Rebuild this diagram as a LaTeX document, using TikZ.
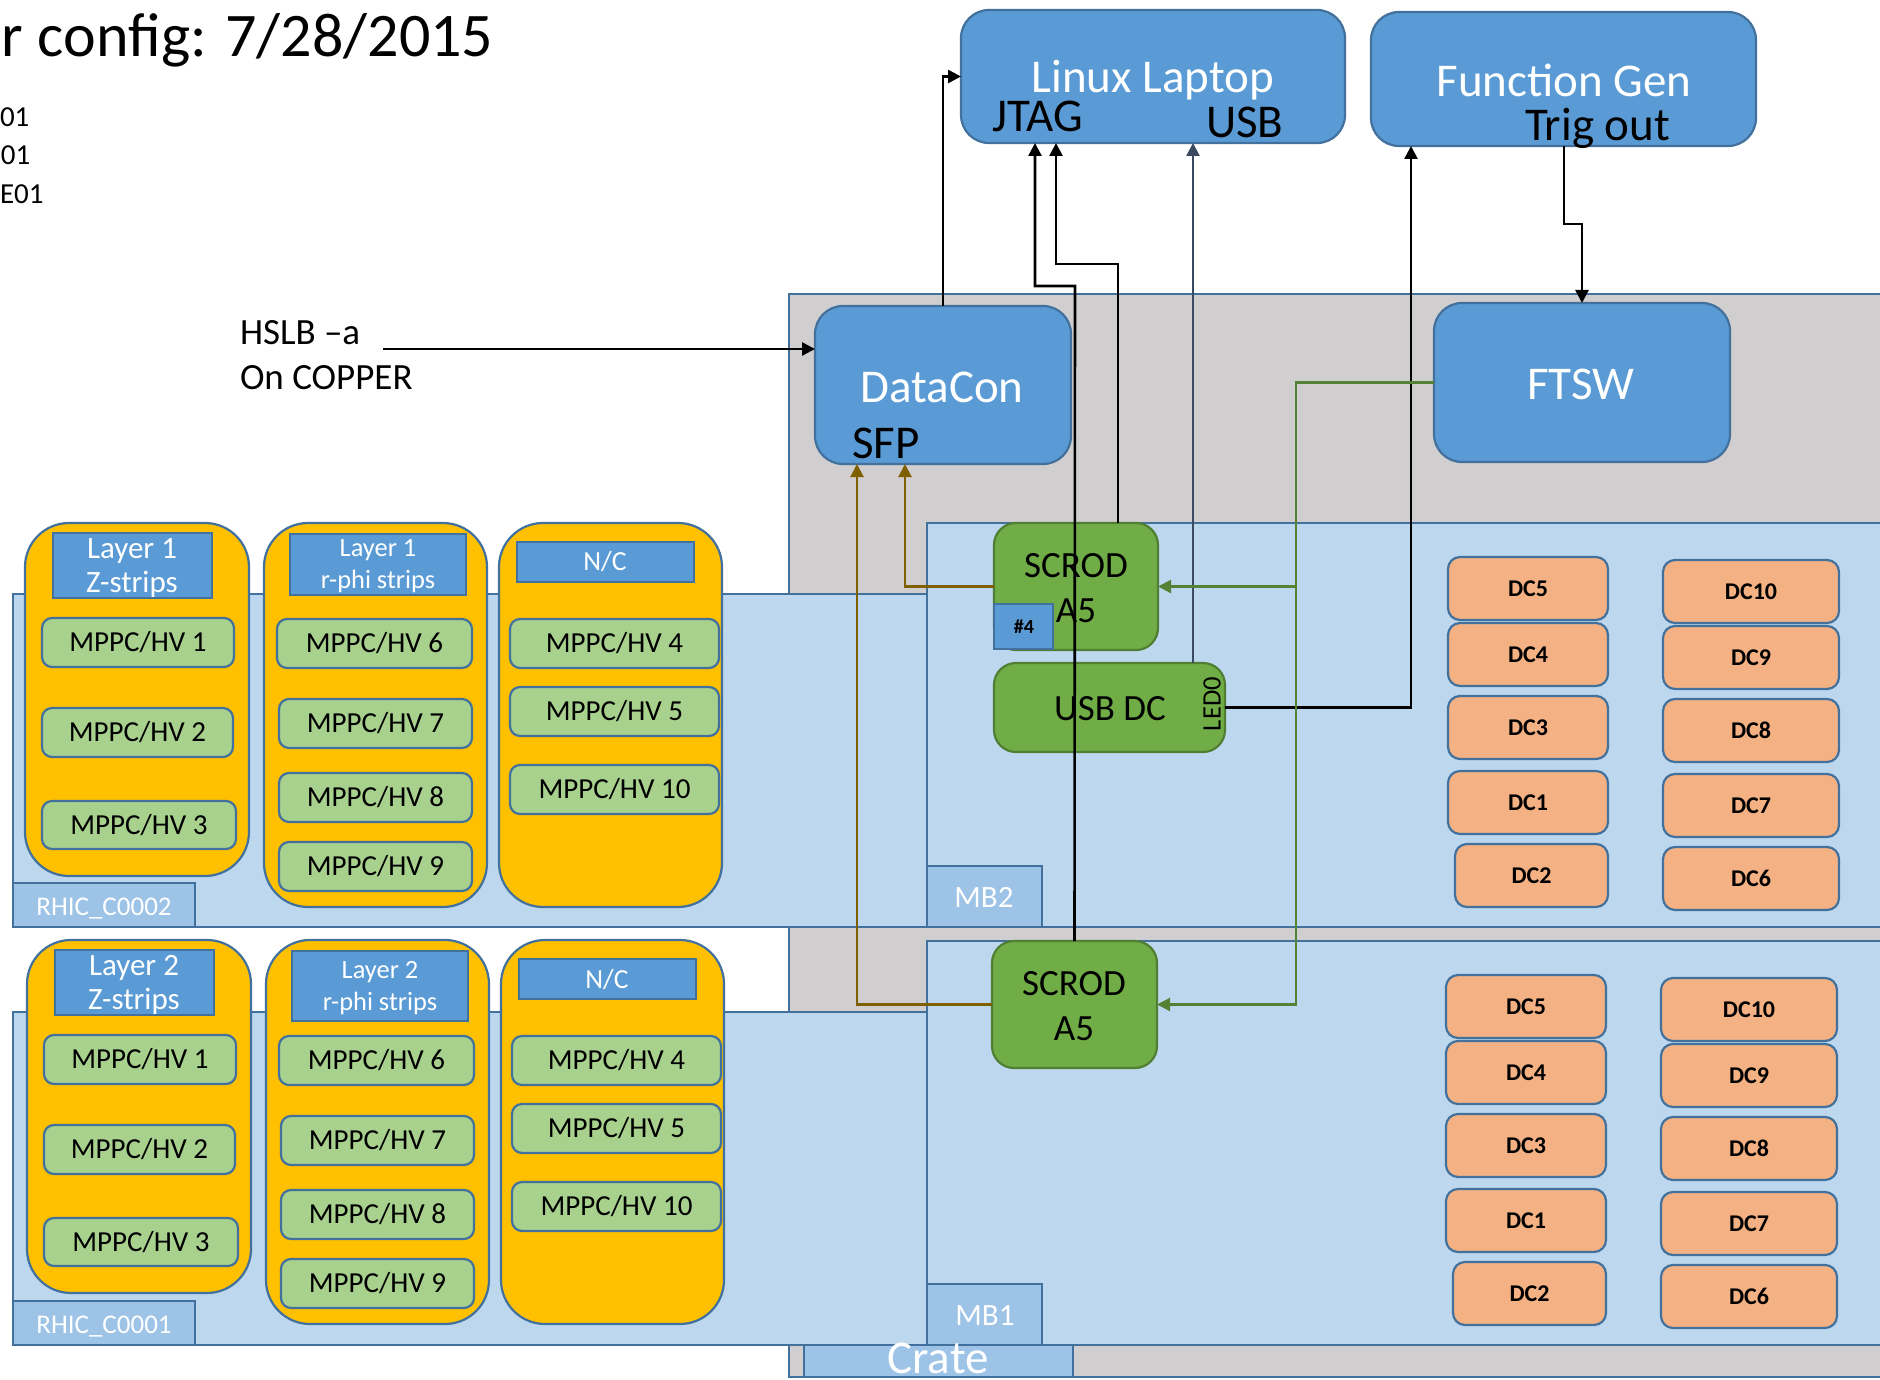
\documentclass[tikz,border=0pt]{standalone}
\usepackage{fontspec}
\setmainfont{Carlito}
\usetikzlibrary{arrows.meta}

\definecolor{boxblue}{HTML}{5B9BD5}
\definecolor{edgeblue}{HTML}{41719C}
\definecolor{boardblue}{HTML}{BDD7EE}
\definecolor{tagblue}{HTML}{9DC3E6}
\definecolor{crategray}{HTML}{D0CECE}
\definecolor{colorange}{HTML}{FFC000}
\definecolor{mppcgreen}{HTML}{A9D18E}
\definecolor{dcorange}{HTML}{F4B183}
\definecolor{scrodgreen}{HTML}{70AD47}
\definecolor{scrodedge}{HTML}{507E32}
\definecolor{trigline}{HTML}{548235}
\definecolor{dataline}{HTML}{7F6000}
\definecolor{usbwire}{HTML}{3B4A63}

% font size given in pt
\newcommand{\pxfont}[1]{\fontsize{#1}{#1}\selectfont}
% rectangle node spanning corner (x1,y1) to (x2,y2): style, name, x1, y1, x2, y2, text
\newcommand{\placebox}[7]{%
  \node[#1, minimum width={(#5-#3)*0.5pt}, minimum height={(#6-#4)*0.5pt}]
    (#2) at ({(#3+#5)/2},{(#4+#6)/2}) {#7};}

\tikzset{
  edged/.style={rectangle, inner sep=0pt, outer sep=0pt, line width=1.1pt, draw=edgeblue},
  cratebox/.style={edged, fill=crategray},
  board/.style={edged, fill=boardblue},
  tagbox/.style={edged, fill=tagblue},
  bigblue/.style={edged, fill=boxblue, rounded corners=14pt},
  column/.style={edged, fill=colorange, rounded corners=22pt},
  header/.style={edged, fill=boxblue},
  mppc/.style={edged, fill=mppcgreen, rounded corners=5pt, font=\pxfont{14.5}},
  dcbox/.style={edged, fill=dcorange, rounded corners=6pt, font=\pxfont{12}\bfseries},
  scrod/.style={edged, fill=scrodgreen, draw=scrodedge, rounded corners=11pt},
  label/.style={inner sep=0pt, outer sep=0pt},
  bigtext/.style={label, font=\pxfont{23.5}},
  midtext/.style={label, font=\pxfont{18.5}},
  tagtext/.style={label, text=white},
  tip/.style={-{Triangle[length=6.5pt,width=6.5pt]}},
  conn/.style={tip, line width=1.3pt, draw=black},
  usbconn/.style={tip, line width=1.3pt, draw=usbwire},
  trigconn/.style={tip, line width=1.1pt, draw=trigline},
  dataconn/.style={tip, line width=1.1pt, draw=dataline},
}

\begin{document}
\begin{tikzpicture}[x=0.5pt, y=-0.5pt]
\useasboundingbox (0,0) rectangle (1880,1380);
\clip (0,0) rectangle (1880,1380);
\fill[white] (0,0) rectangle (1880,1380);

% heading and side notes
\node[label, anchor=base west, font=\pxfont{31}] (title) at (2,57) {r config: 7/28/2015};
\node[label, anchor=base west, font=\pxfont{14.5}] (note1) at (0,127) {01};
\node[label, anchor=base west, font=\pxfont{14.5}] (note2) at (1,165) {01};
\node[label, anchor=base west, font=\pxfont{14.5}] (note3) at (0,204) {E01};

% crate
\placebox{cratebox}{crate}{789}{294}{1910}{1377}{}

% detector boards
\placebox{board}{rhicU}{13}{594}{927}{927}{}
\placebox{tagbox}{rhicUtag}{13}{883}{195}{927}{}
\node[tagtext, anchor=base, font=\pxfont{13.5}] (rhicUtxt) at (104,915) {RHIC\_C0002};
\placebox{board}{rhicL}{13}{1012}{927}{1345}{}
\placebox{tagbox}{rhicLtag}{13}{1301}{195}{1345}{}
\node[tagtext, anchor=base, font=\pxfont{13.5}] (rhicLtxt) at (104,1333) {RHIC\_C0001};

% motherboards
\placebox{board}{mbU}{927}{523}{1910}{927}{}
\placebox{tagbox}{mbUtag}{927}{866}{1042}{927}{}
\node[tagtext, anchor=base, font=\pxfont{15.5}] (mbUtxt) at (984,907) {MB2};
\placebox{board}{mbL}{927}{941}{1910}{1345}{}
\placebox{tagbox}{mbLtag}{927}{1284}{1042}{1345}{}
\node[tagtext, anchor=base, font=\pxfont{15.5}] (mbLtxt) at (985,1325) {MB1};

\placebox{tagbox}{cratetag}{804}{1345}{1073}{1377}{}
\node[tagtext, anchor=base, font=\pxfont{23.5}] (cratetxt) at (938,1373) {Crate};

% MPPC/HV columns, one set per layer
\foreach \s/\dx/\dy/\n/\hb in {u/0/0/1/595, l/2/417/2/604} {
  \placebox{column}{\s colA}{(25+\dx)}{(523+\dy)}{(249+\dx)}{(876+\dy)}{}
  \placebox{column}{\s colB}{(264+\dx)}{(523+\dy)}{(487+\dx)}{(907+\dy)}{}
  \placebox{column}{\s colC}{(499+\dx)}{(523+\dy)}{(722+\dx)}{(907+\dy)}{}
  \placebox{header}{\s hdrA}{(53+\dx)}{(533+\dy)}{(212+\dx)}{(598+\dy)}{}
  \placebox{header}{\s hdrB}{(290+\dx)}{(534+\dy)}{(466+\dx)}{(\hb+\dy)}{}
  \placebox{header}{\s hdrC}{(517+\dx)}{(542+\dy)}{(694+\dx)}{(582+\dy)}{}
  \node[tagtext, align=center, font=\fontsize{15.5}{17}\selectfont] (\s hdrAtxt)
    at ({132+\dx},{568+\dy}) {Layer \n\\Z-strips};
  \node[tagtext, align=center, font=\fontsize{13.2}{16}\selectfont] (\s hdrBtxt)
    at ({378+\dx},{(534+\hb)/2+\dy+2}) {Layer \n\\r-phi strips};
  \node[tagtext, font=\pxfont{13.8}] (\s hdrCtxt) at ({605+\dx},{562+\dy}) {N/C};
  \placebox{mppc}{\s hv1}{(42+\dx)}{(618+\dy)}{(234+\dx)}{(667+\dy)}{MPPC/HV 1}
  \placebox{mppc}{\s hv2}{(42+\dx)}{(708+\dy)}{(233+\dx)}{(757+\dy)}{MPPC/HV 2}
  \placebox{mppc}{\s hv3}{(42+\dx)}{(801+\dy)}{(236+\dx)}{(849+\dy)}{MPPC/HV 3}
  \placebox{mppc}{\s hv6}{(277+\dx)}{(619+\dy)}{(472+\dx)}{(668+\dy)}{MPPC/HV 6}
  \placebox{mppc}{\s hv7}{(279+\dx)}{(699+\dy)}{(472+\dx)}{(748+\dy)}{MPPC/HV 7}
  \placebox{mppc}{\s hv8}{(279+\dx)}{(773+\dy)}{(472+\dx)}{(822+\dy)}{MPPC/HV 8}
  \placebox{mppc}{\s hv9}{(279+\dx)}{(842+\dy)}{(472+\dx)}{(891+\dy)}{MPPC/HV 9}
  \placebox{mppc}{\s hv4}{(510+\dx)}{(619+\dy)}{(719+\dx)}{(668+\dy)}{MPPC/HV 4}
  \placebox{mppc}{\s hv5}{(510+\dx)}{(687+\dy)}{(719+\dx)}{(736+\dy)}{MPPC/HV 5}
  \placebox{mppc}{\s hv10}{(510+\dx)}{(765+\dy)}{(719+\dx)}{(814+\dy)}{MPPC/HV 10}
}

% daughter cards on each motherboard
\foreach \s/\dx/\dy in {u/0/0, l/2/418} {
  \foreach \lab/\xa/\ya/\xb/\yb in {5/1448/557/1608/620, 4/1448/623/1608/686,
      3/1448/696/1608/759, 1/1448/771/1608/834, 2/1455/844/1608/907,
      10/1663/560/1839/623, 9/1663/626/1839/689, 8/1663/699/1839/762,
      7/1663/774/1839/837, 6/1663/847/1839/910} {
    \placebox{dcbox}{\s dc\lab}{(\xa-\dx)}{(\ya+\dy)}{(\xb-\dx)}{(\yb+\dy)}{DC\lab}
  }
}

% readout electronics
\placebox{bigblue}{lap}{961}{10}{1345}{143}{}
\node[bigtext, text=white, anchor=base] (laptxt) at (1153,93) {Linux Laptop};
\node[bigtext, anchor=base west] (jtagtxt) at (992,132) {JTAG};
\node[bigtext, anchor=base west] (usbtxt) at (1206,138) {USB};

\placebox{bigblue}{fg}{1371}{12}{1756}{146}{}
\node[bigtext, text=white, anchor=base] (fgtxt) at (1564,97) {Function Gen};
\node[bigtext, anchor=base west] (trigtxt) at (1525,141) {Trig out};

\placebox{bigblue}{dcn}{815}{306}{1071}{464}{}
\node[bigtext, text=white, anchor=base] (dcntxt) at (942,402) {DataCon};
\node[bigtext, anchor=base west] (sfptxt) at (852,458) {SFP};

\placebox{bigblue}{ftsw}{1434}{303}{1730}{462}{}
\node[bigtext, text=white, anchor=base] (ftswtxt) at (1581,400) {FTSW};

\placebox{scrod}{scrodU}{994}{523}{1158}{650}{}
\node[midtext, anchor=base] (scrodUa) at (1076,577) {SCROD};
\node[midtext, anchor=base] (scrodUb) at (1076,622) {A5};
\placebox{header}{slot}{994}{604}{1053}{649}{}
\node[label, font=\pxfont{10}\bfseries] (slottxt) at (1024,627) {\#4};

\placebox{scrod}{usbdc}{994}{663}{1225}{752}{}
\node[midtext, anchor=base] (usbdctxt) at (1110,720) {USB DC};
\node[label, font=\pxfont{13.3}, rotate=90] (ledtxt) at (1212,704) {LED0};

\placebox{scrod}{scrodL}{992}{941}{1157}{1068}{}
\node[midtext, anchor=base] (scrodLa) at (1074,995) {SCROD};
\node[midtext, anchor=base] (scrodLb) at (1074,1040) {A5};

% HSLB source
\node[midtext, anchor=base west] (hslb1) at (240,344) {HSLB –a};
\node[midtext, anchor=base west] (hslb2) at (240,389) {On COPPER};

% connections
\coordinate (hsl) at (383,349);
\draw[conn] (hsl) -- (hsl -| dcn.west);
\draw[conn] (dcn.north) |- (lap.west);

\coordinate (jtA) at (1035,286);
\coordinate (jtAx) at (1075,286);
\draw[conn] (scrodL.north) -- (jtAx) -- (jtA) -- (jtA |- lap.south);
\coordinate (jtB) at (1056,264);
\coordinate (jtBx) at (1118,264);
\draw[conn] (jtBx |- scrodU.north) -- (jtBx) -- (jtB) -- (jtB |- lap.south);

\coordinate (usbx) at (1193,400);
\draw[usbconn] (usbx |- usbdc.north) -- (usbx |- lap.south);

\coordinate (ledx) at (1411,400);
\draw[conn] (usbdc.east) -| (ledx |- fg.south);

\coordinate (trg) at (1564,224);
\draw[conn] (trg |- fg.south) -- (trg) -| (ftsw.north);

\coordinate (gx) at (1296,500);
\draw[trigconn] (ftsw.west) -| (gx |- scrodL.east) -- (scrodL.east);
\draw[trigconn] (gx |- scrodU.east) -- (scrodU.east);

\coordinate (bA) at (905,500);
\coordinate (bB) at (857,500);
\draw[dataconn] (scrodU.west) -| (bA |- dcn.south);
\draw[dataconn] (scrodL.west) -| (bB |- dcn.south);
\end{tikzpicture}
\end{document}
